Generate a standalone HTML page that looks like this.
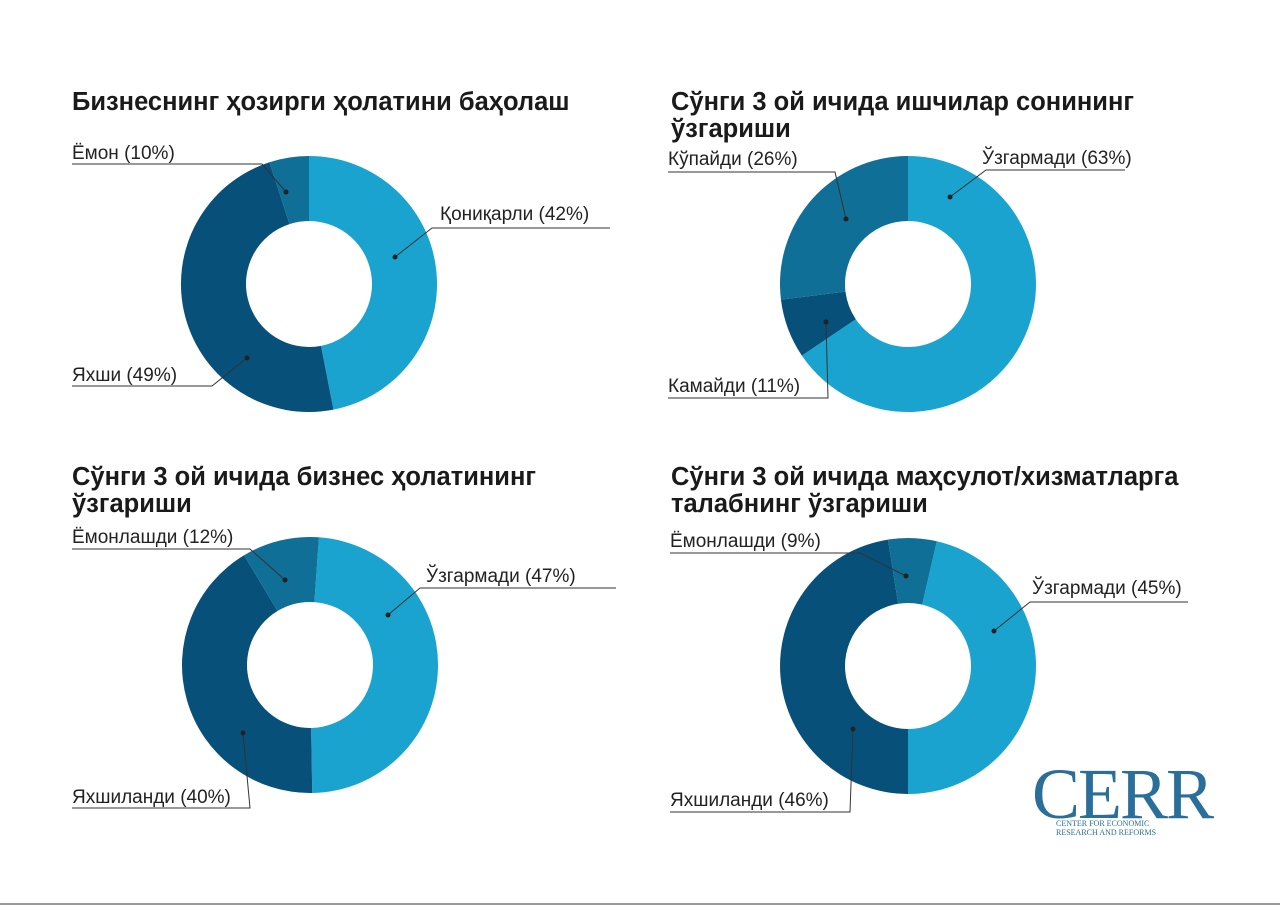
<!DOCTYPE html>
<html><head><meta charset="utf-8">
<style>
body{margin:0;background:#fff;}
svg{display:block;font-family:"Liberation Sans",sans-serif;}
.t{font-size:25.5px;font-weight:bold;fill:#1a1a1a}
.l{font-size:19px;fill:#222}
</style></head><body>
<svg id="s" width="1280" height="906" viewBox="0 0 1280 906">
<rect width="1280" height="906" fill="#fff"/>
<text class="t" x="72" y="110">Бизнеснинг ҳозирги ҳолатини баҳолаш</text>
<text class="t" x="671" y="110">Сўнги 3 ой ичида ишчилар сонининг</text>
<text class="t" x="671" y="137">ўзгариши</text>
<text class="t" x="72" y="485">Сўнги 3 ой ичида бизнес ҳолатининг</text>
<text class="t" x="72" y="512">ўзгариши</text>
<text class="t" x="671" y="485">Сўнги 3 ой ичида маҳсулот/хизматларга</text>
<text class="t" x="671" y="512">талабнинг ўзгариши</text>
<g id="pies"></g>
<g stroke="#333" stroke-width="1" fill="none">
<polyline points="72,164 262,164 286,192"/>
<polyline points="395,257 432,228 610,228"/>
<polyline points="247,358 212,386 72,386"/>
<polyline points="668,172 835,172 846,219"/>
<polyline points="950,197 986,170 1125,170"/>
<polyline points="826,322 828,398 668,398"/>
<polyline points="72,549 250,549 285,580"/>
<polyline points="388,615 420,588 616,588"/>
<polyline points="243,733 250,808 72,808"/>
<polyline points="670,553 860,553 906,576"/>
<polyline points="994,631 1030,602 1188,602"/>
<polyline points="853,729 850,812 670,812"/>
</g>
<g fill="#222">
<circle cx="286" cy="192" r="2.5"/><circle cx="395" cy="257" r="2.5"/><circle cx="247" cy="358" r="2.5"/>
<circle cx="846" cy="219" r="2.5"/><circle cx="950" cy="197" r="2.5"/><circle cx="826" cy="322" r="2.5"/>
<circle cx="285" cy="580" r="2.5"/><circle cx="388" cy="615" r="2.5"/><circle cx="243" cy="733" r="2.5"/>
<circle cx="906" cy="576" r="2.5"/><circle cx="994" cy="631" r="2.5"/><circle cx="853" cy="729" r="2.5"/>
</g>
<text class="l" x="72" y="159">Ёмон (10%)</text>
<text class="l" x="440" y="220">Қониқарли (42%)</text>
<text class="l" x="72" y="381">Яхши (49%)</text>
<text class="l" x="668" y="165">Кўпайди (26%)</text>
<text class="l" x="982" y="164">Ўзгармади (63%)</text>
<text class="l" x="668" y="392">Камайди  (11%)</text>
<text class="l" x="72" y="543">Ёмонлашди (12%)</text>
<text class="l" x="426" y="582">Ўзгармади (47%)</text>
<text class="l" x="72" y="803">Яхшиланди (40%)</text>
<text class="l" x="670" y="547">Ёмонлашди (9%)</text>
<text class="l" x="1032" y="594">Ўзгармади (45%)</text>
<text class="l" x="670" y="806">Яхшиланди (46%)</text>
<text x="1032" y="818" font-family="Liberation Serif,serif" font-size="72" fill="#2a6f99" letter-spacing="-2">CERR</text>
<text x="1056" y="826" font-family="Liberation Serif,serif" font-size="8" fill="#2a6f99">CENTER FOR ECONOMIC</text>
<text x="1056" y="835" font-family="Liberation Serif,serif" font-size="8" fill="#2a6f99">RESEARCH AND REFORMS</text>
<line x1="0" y1="904" x2="1280" y2="904" stroke="#999" stroke-width="2"/>
</svg>
<script>
var L="#1ba3d0",D="#06507a",M="#0f6f96";
var pies=[[309,284,[[0,169,L],[169,342,D],[342,360,M]]],
[908,284,[[0,236,L],[236,263,D],[263,360,M]]],
[310,665,[[4,179,L],[179,329,D],[329,364,M]]],
[908,666,[[13,180,L],[180,351,D],[351,373,M]]]];
var g=document.getElementById("pies"),R=128,r=63,h="";
function p(cx,cy,rad,a){a=a*Math.PI/180;return (cx+rad*Math.sin(a)).toFixed(2)+","+(cy-rad*Math.cos(a)).toFixed(2);}
pies.forEach(function(q){q[2].forEach(function(s){var lg=(s[1]-s[0])>180?1:0;
h+='<path fill="'+s[2]+'" d="M'+p(q[0],q[1],R,s[0])+' A'+R+','+R+' 0 '+lg+' 1 '+p(q[0],q[1],R,s[1])+' L'+p(q[0],q[1],r,s[1])+' A'+r+','+r+' 0 '+lg+' 0 '+p(q[0],q[1],r,s[0])+' Z"/>';});});
g.innerHTML=h;
</script>
</body></html>
